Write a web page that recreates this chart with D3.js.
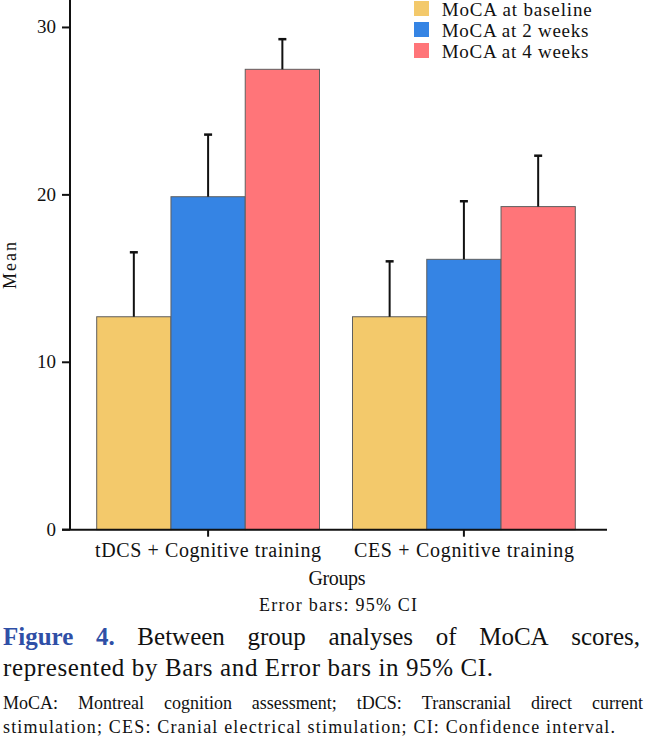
<!DOCTYPE html>
<html>
<head>
<meta charset="utf-8">
<script src="https://cdn.jsdelivr.net/npm/d3@7/dist/d3.min.js"></script>
<style>
  html, body { margin: 0; padding: 0; background: #fff; }
  svg text { font-family: 'Liberation Serif', 'DejaVu Serif', serif; }
</style>
</head>
<body>
<svg id="chart" width="646" height="737"></svg>
<script>
// ---- data ----
const groups = ["tDCS + Cognitive training", "CES + Cognitive training"];
const series = ["MoCA at baseline", "MoCA at 2 weeks", "MoCA at 4 weeks"];
const colors = ["#F3C96B", "#3584E4", "#FF7579"];
const meanTDCS = [12.72, 19.89, 27.50];
const meanCES  = [12.72, 16.15, 19.30];
const ciUpperTDCS = [16.57, 23.60, 29.30];
const ciUpperCES  = [16.03, 19.62, 22.34];
const yTicks = [0, 10, 20, 30];
const yMax = 31.64;

const means = [meanTDCS, meanCES];
const uppers = [ciUpperTDCS, ciUpperCES];
const FONT = "Liberation Serif, DejaVu Serif, serif";

const svg = d3.select("#chart");

// ---- scales ----
const y = d3.scaleLinear().domain([0, yMax]).range([529.7, 0]);
const x0 = d3.scaleBand().domain(groups).range([96.7, 575.3]).paddingInner(0.129).paddingOuter(0);
const x1 = d3.scaleBand().domain(series).range([0, x0.bandwidth()]).padding(0);

const rows = [];
groups.forEach((g, gi) => series.forEach((s, si) => rows.push({g, s, si, v: means[gi][si], up: uppers[gi][si]})));

// ---- bars ----
svg.append("g").selectAll("rect").data(rows).join("rect")
  .attr("x", d => x0(d.g) + x1(d.s))
  .attr("y", d => y(d.v))
  .attr("width", x1.bandwidth())
  .attr("height", d => y(0) - y(d.v))
  .attr("fill", d => colors[d.si])
  .attr("stroke", "#5f5f5f")
  .attr("stroke-width", 1);

// ---- error bars (upper half visible) ----
const eb = svg.append("g").attr("stroke", "#111").attr("stroke-width", 2);
rows.forEach(d => {
  const cx = x0(d.g) + x1(d.s) + x1.bandwidth() / 2;
  eb.append("line").attr("x1", cx).attr("x2", cx).attr("y1", y(d.v)).attr("y2", y(d.up));
  eb.append("line").attr("x1", cx - 4).attr("x2", cx + 4).attr("y1", y(d.up)).attr("y2", y(d.up)).attr("stroke-width", 2.5);
});

// ---- axes ----
const axG = svg.append("g").attr("stroke", "#111").attr("stroke-width", 2);
axG.append("line").attr("x1", 70).attr("x2", 70).attr("y1", 0).attr("y2", y(0));
axG.append("line").attr("x1", 62).attr("x2", 607).attr("y1", y(0)).attr("y2", y(0));
yTicks.forEach(t => {
  axG.append("line").attr("x1", 62).attr("x2", 70).attr("y1", y(t)).attr("y2", y(t));
});
groups.forEach(g => {
  const cx = x0(g) + x0.bandwidth() / 2;
  axG.append("line").attr("x1", cx).attr("x2", cx).attr("y1", y(0)).attr("y2", y(0) + 7);
});

function txt(sel) { return sel.attr("font-family", FONT).attr("fill", "#111"); }

txt(svg.append("g").selectAll("text").data(yTicks).join("text"))
  .attr("x", 56).attr("y", d => y(d) + 6)
  .attr("text-anchor", "end").attr("font-size", 19)
  .text(d => d);

const labelWidths = [226, 220];
groups.forEach((g, i) => {
  txt(svg.append("text"))
    .attr("x", x0(g) + x0.bandwidth() / 2).attr("y", 557)
    .attr("text-anchor", "middle").attr("font-size", 20)
    .attr("textLength", labelWidths[i]).attr("lengthAdjust", "spacing")
    .text(g);
});

txt(svg.append("text")).attr("x", 337).attr("y", 585).attr("text-anchor", "middle")
  .attr("font-size", 20).attr("textLength", 57).attr("lengthAdjust", "spacing").text("Groups");
txt(svg.append("text")).attr("x", 338).attr("y", 611).attr("text-anchor", "middle")
  .attr("font-size", 18).attr("textLength", 158).attr("lengthAdjust", "spacing").text("Error bars: 95% CI");

txt(svg.append("text")).attr("transform", "translate(16,265.5) rotate(-90)").attr("text-anchor", "middle")
  .attr("font-size", 18).attr("textLength", 47).attr("lengthAdjust", "spacing").text("Mean");

// ---- legend ----
const legWidths = [150, 146.6, 146.6];
const leg = svg.append("g");
series.forEach((s, i) => {
  leg.append("rect").attr("x", 414).attr("y", 1 + i * 21).attr("width", 15).attr("height", 15).attr("fill", colors[i]);
  txt(leg.append("text")).attr("x", 441.7).attr("y", 16 + i * 21).attr("font-size", 19)
    .attr("textLength", legWidths[i]).attr("lengthAdjust", "spacing").text(s);
});

// ---- caption ----
function justify(words, x0p, x1p, yb, size) {
  const g = svg.append("g");
  const nodes = words.map(w => txt(g.append("text")).attr("y", yb).attr("font-size", size)
    .attr("font-weight", w.bold ? "bold" : null).attr("fill", w.color || "#111").text(w.t));
  const widths = nodes.map(n => n.node().getComputedTextLength());
  const total = d3.sum(widths);
  const gap = (x1p - x0p - total) / (words.length - 1);
  let xx = x0p;
  nodes.forEach((n, i) => { n.attr("x", xx); xx += widths[i] + gap; });
}
const blue = "#2F4FA6";
justify([
  {t: "Figure", bold: true, color: blue}, {t: "4.", bold: true, color: blue},
  {t: "Between"}, {t: "group"}, {t: "analyses"}, {t: "of"}, {t: "MoCA"}, {t: "scores,"}
], 3, 640, 645, 25);
txt(svg.append("text")).attr("x", 3).attr("y", 676).attr("font-size", 25)
  .attr("textLength", 490).attr("lengthAdjust", "spacing").text("represented by Bars and Error bars in 95% CI.");

justify("MoCA: Montreal cognition assessment; tDCS: Transcranial direct current".split(" ").map(t => ({t})), 3, 643, 709, 18);
txt(svg.append("text")).attr("x", 3).attr("y", 733).attr("font-size", 18)
  .attr("textLength", 612).attr("lengthAdjust", "spacing").text("stimulation; CES: Cranial electrical stimulation; CI: Confidence interval.");
</script>
</body>
</html>
